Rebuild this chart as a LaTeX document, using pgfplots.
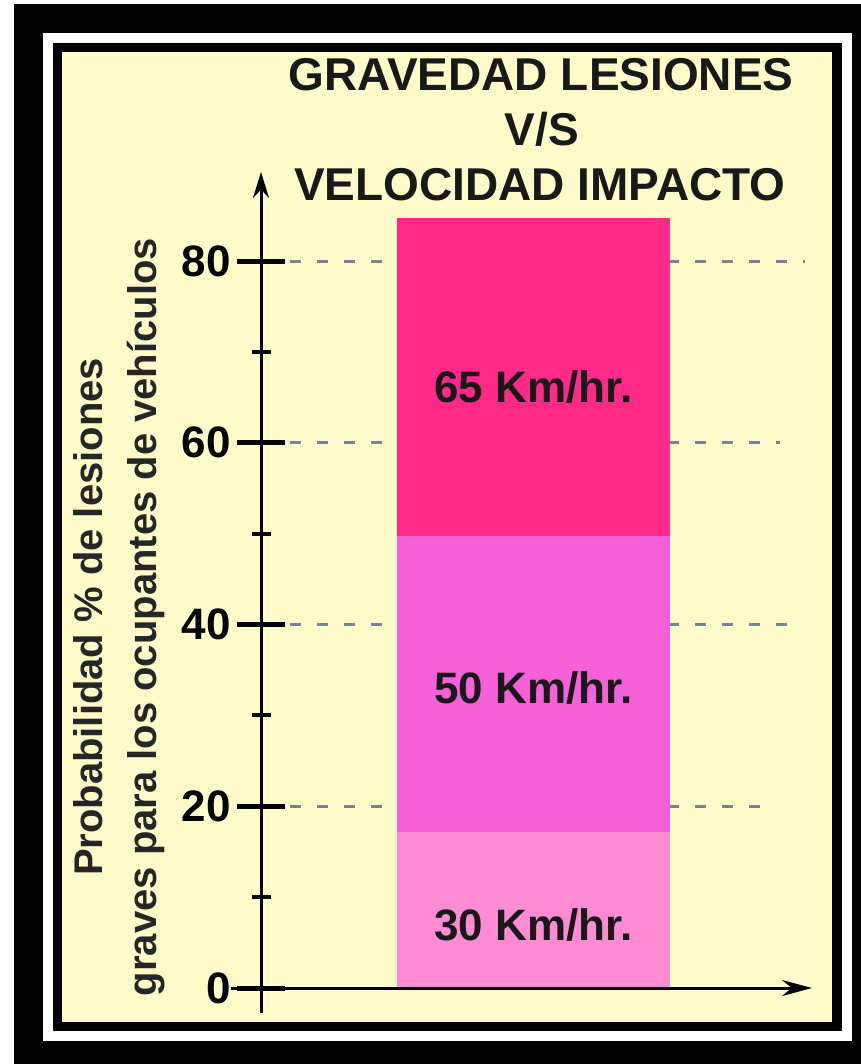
\documentclass[border=0pt]{standalone}
\usepackage{fontspec}
\setmainfont{Liberation Sans}
\usepackage{pgfplots}
\pgfplotsset{compat=1.18}
\usetikzlibrary{arrows.meta}
\definecolor{cream}{HTML}{FFFCCA}
\definecolor{pinkA}{HTML}{FF8CD2}
\definecolor{pinkB}{HTML}{F55FD7}
\definecolor{pinkC}{HTML}{FF2A87}
\definecolor{gridc}{HTML}{7C8096}
\begin{document}
\begin{tikzpicture}
\begin{scope}[x=1bp,y=-1bp]
\fill[white] (0,0) rectangle (861,1064);
\fill[black] (14,4) rectangle (861,1064);
\fill[white] (43,33) rectangle (852,1041);
\fill[black] (53,43) rectangle (842,1031);
\fill[cream] (62,52) rectangle (832,1022);
\node[anchor=base, font=\fontsize{46bp}{52bp}\selectfont\bfseries, text=black!90] at (541,90) {GRAVEDAD LESIONES};
\node[anchor=base, font=\fontsize{46bp}{52bp}\selectfont\bfseries, text=black!90] at (542,145) {V/S};
\node[anchor=base, font=\fontsize{46bp}{52bp}\selectfont\bfseries, text=black!90] at (540,200) {VELOCIDAD IMPACTO};
\node[rotate=90, anchor=base, font=\fontsize{40bp}{44bp}\selectfont\bfseries, text=black!85] at (102,617) {Probabilidad \% de lesiones};
\node[rotate=90, anchor=base, font=\fontsize{40bp}{44bp}\selectfont\bfseries, text=black!85] at (156,617) {graves para los ocupantes de vehículos};
\end{scope}
\begin{axis}[
  at={(231bp,-1013bp)}, anchor=south west,
  scale only axis, width=581bp, height=841bp,
  xmin=-30, xmax=551, ymin=-2.75, ymax=89.8,
  axis lines=middle,
  axis on top,
  axis line style={line width=3bp, black},
  x axis line style={-{Stealth[length=30bp,width=16bp]}},
  y axis line style={-{Stealth[length=26bp,width=16bp]}},
  xtick=\empty,
  ytick={0,20,40,60,80},
  minor ytick={10,30,50,70},
  hide obscured y ticks=false,
  tick align=center,
  major tick length=48bp,
  minor tick length=19bp,
  major tick style={line width=5bp, black},
  minor tick style={line width=4bp, black},
  yticklabel style={font=\fontsize{44bp}{48bp}\selectfont\bfseries, inner sep=0pt, anchor=east, xshift=-6bp},
  /pgf/number format/assume math mode=true,
  clip=false,
]
\addplot[gridc, line width=3bp, dash pattern=on 11bp off 16bp] coordinates {(29,80) (544,80)};
\addplot[gridc, line width=3bp, dash pattern=on 11bp off 16bp] coordinates {(29,60) (519,60)};
\addplot[gridc, line width=3bp, dash pattern=on 11bp off 16bp] coordinates {(29,40) (536,40)};
\addplot[gridc, line width=3bp, dash pattern=on 11bp off 16bp] coordinates {(29,20) (509,20)};
\addplot[ybar, bar width=273, fill=pinkC, draw=none] coordinates {(272.5,84.7)};
\addplot[ybar, bar width=273, fill=pinkB, draw=none] coordinates {(272.5,49.7)};
\addplot[ybar, bar width=273, fill=pinkA, draw=none] coordinates {(272.5,17.2)};
\node[font=\fontsize{44bp}{48bp}\selectfont\bfseries, text=black!90] at (axis cs:272.5,66.1) {65 Km/hr.};
\node[font=\fontsize{44bp}{48bp}\selectfont\bfseries, text=black!90] at (axis cs:272.5,33.0) {50 Km/hr.};
\node[font=\fontsize{44bp}{48bp}\selectfont\bfseries, text=black!90] at (axis cs:272.5,6.9) {30 Km/hr.};
\end{axis}
\pgfresetboundingbox
\useasboundingbox (0,0) rectangle (861bp,-1064bp);
\end{tikzpicture}
\end{document}
